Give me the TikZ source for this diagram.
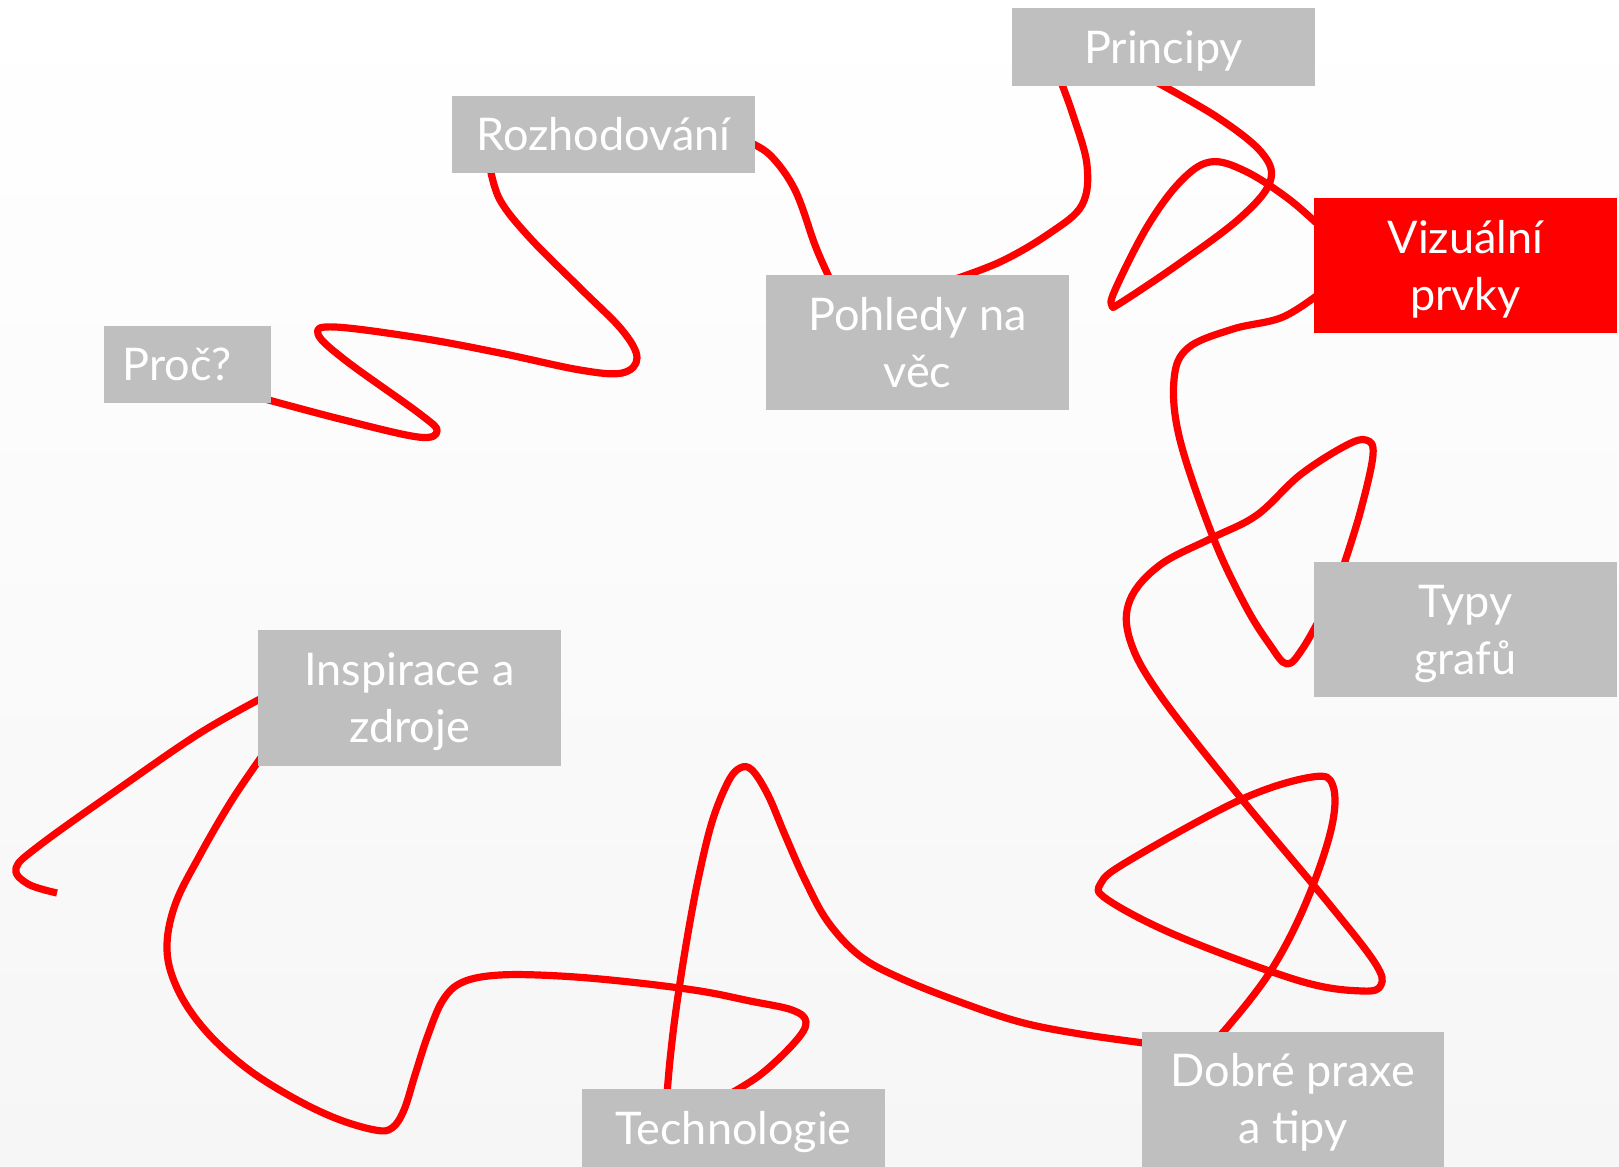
\documentclass[tikz,border=0pt]{standalone}
\usepackage{fontspec}
\setmainfont{Lato}
\usetikzlibrary{calc}
\pgfdeclarelayer{bg}
\pgfdeclarelayer{lines}
\pgfsetlayers{bg,lines,main}
\definecolor{boxgray}{HTML}{BFBFBF}
\definecolor{hotred}{HTML}{FF0000}
\definecolor{paperbottom}{HTML}{F6F6F6}
\begin{document}
\begin{tikzpicture}[x=0.5pt,y=-0.5pt,
  topic/.style={fill=boxgray, text=white, inner sep=0pt, align=center,
    minimum width=151.5pt, minimum height=38.5pt,
    text height=20pt, text depth=4pt,
    font=\fontsize{22.5}{28.5}\selectfont},
  tall/.style={minimum height=67.5pt, text height=48.5pt},
  current/.style={fill=hotred},
  wire/.style={draw=hotred, line width=3.6pt, line join=round},
  thread/.style={smooth, tension=0.6}]
\useasboundingbox (0,0) rectangle (1619,1167);
\begin{pgfonlayer}{bg}
  \shade[top color=white, bottom color=paperbottom] (0,0) rectangle (1619,1167);
\end{pgfonlayer}

% topic boxes
\node[topic, minimum width=83.5pt] (proc) at (187.5,364.5) {Proč?\hspace{10.5pt}};
\node[topic] (rozh) at (603.5,134.5) {Rozhodování};
\node[topic, tall] (pohl) at (917.5,342.5) {Pohledy na\\věc};
\node[topic, minimum height=39pt] (princ) at (1163.5,47) {Principy};
\node[topic, tall, current] (vizu) at (1465.5,265.5) {Vizuální\\prvky};
\node[topic, tall] (typy) at (1465.5,629.5) {Typy\\grafů};
\node[topic, tall, minimum width=151pt] (dobre) at (1293,1099) {Dobré praxe\\a tipy};
\node[topic, minimum height=39pt] (tech) at (733.5,1128) {Technologie};
\node[topic, tall, minimum height=68pt] (insp) at (409.5,698) {Inspirace a\\zdroje};
\coordinate (loose) at (57,893);

% the red thread linking the topics
\begin{pgfonlayer}{lines}
\draw[wire] plot[thread] coordinates {
  ($(proc.south east)+(-16,-7)$) (340,419) (418,437) (437,431) (420,414)
  (345,360) (318,334) (335,327) (420,338) (500,353) (580,370) (622,373)
  (637,358) (622,330) (580,288) (530,238) (500,200)
  ($(rozh.south west)+(38,-8)$)};
\draw[wire] plot[thread] coordinates {
  ($(rozh.east)+(-10,6)$) (770,155) (795,190) (815,245) (828,275)
  ($(pohl.north west)+(69,15)$)};
\draw[wire] plot[thread] coordinates {
  ($(pohl.north west)+(179,8)$) (1000,262) (1050,233) (1082,205) (1087,165)
  (1073,115) ($(princ.south west)+(48,-8)$)};
\draw[wire] plot[thread] coordinates {
  ($(princ.south west)+(138,-8)$) (1217,117) (1262,153) (1270,182)
  (1240,218) (1180,263) (1122,302) (1112,306) (1115,290) (1147,227)
  (1180,182) (1210,162) (1245,171) (1290,200) ($(vizu.west)+(16,-30)$)};
\draw[wire] plot[thread] coordinates {
  ($(vizu.west)+(10,25)$) (1283,317) (1233,329) (1188,348) (1174,380)
  (1180,440) (1213,537) (1245,605) (1270,645) (1287,664) (1303,648)
  ($(typy.north west)+(11,48)$)};
\draw[wire] plot[thread] coordinates {
  ($(typy.north west)+(28,10)$) (1360,513) (1373,455) (1366,440) (1345,446)
  (1300,475) (1257,515) (1212,538) (1160,565) (1130,600) (1130,640)
  (1160,695) (1240,797) (1330,905) (1375,963) (1381,985) (1362,991)
  (1300,981) (1180,937) (1108,900) (1101,883) (1130,860) (1240,800)
  (1312,777) (1333,786) (1331,830) (1305,905) (1270,972) (1225,1030)
  ($(dobre.north west)+(68,12)$)};
\draw[wire] plot[thread] coordinates {
  ($(dobre.west)+(10,-55)$) (1080,1034) (1020,1022) (960,1002) (900,978)
  (860,956) (828,922) (805,880) (785,835) (768,795) (752,770) (740,768)
  (728,782) (712,822) (698,880) (686,945) (676,1010) (670,1060)
  ($(tech.north west)+(85,11)$)};
\draw[wire] plot[thread] coordinates {
  ($(tech.north west)+(140,10)$) (760,1075) (795,1042) (806,1022) (792,1010)
  (750,1001) (700,991) (630,982) (560,976) (500,975) (463,982) (443,1000)
  (428,1035) (415,1075) (404,1110) (392,1128) (375,1130) (335,1118)
  (290,1096) (245,1067) (205,1030) (178,990) (167,950) (175,905) (200,855)
  (232,800) ($(insp.south west)+(7,-14)$)};
\draw[wire] plot[thread] coordinates {
  ($(insp.west)+(10,-3)$) (200,733) (117,790) (40,845) (16,868) (28,884)
  (loose)};
\end{pgfonlayer}
\end{tikzpicture}
\end{document}
